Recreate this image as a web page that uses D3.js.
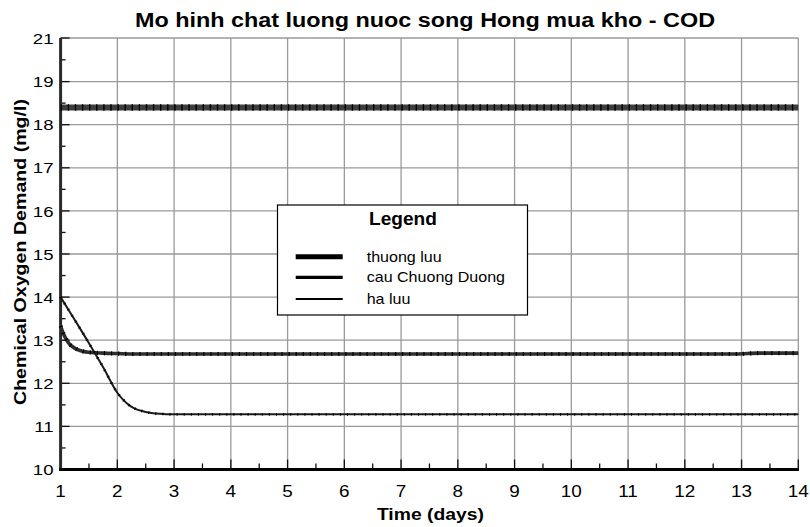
<!DOCTYPE html>
<html><head><meta charset="utf-8">
<script src="https://cdn.jsdelivr.net/npm/d3@7"></script>
<style>html,body{margin:0;padding:0;background:#fff;}svg{display:block;}</style>
</head><body>
<svg id="chart" width="810" height="527"></svg>
<script>
// ---------- data ----------
const seriesNames = ["thuong luu", "cau Chuong Duong", "ha luu"];
const thuongLuuDays = [1, 14];
const thuongLuuCOD  = [18.4, 18.4];
const cauDays = [1, 1.05, 1.1, 1.15, 1.2, 1.3, 1.4, 1.5, 1.75, 2.0, 2.3, 12.9, 13.3, 14];
const cauCOD  = [13.33, 13.15, 13.02, 12.92, 12.86, 12.78, 12.74, 12.72, 12.70, 12.69, 12.68, 12.68, 12.70, 12.70];
const haLuuDays = [1, 1.25, 1.5, 1.75, 2.0, 2.1, 2.2, 2.3, 2.45, 2.6, 2.8, 3.0, 14];
const haLuuCOD  = [14.0, 13.47, 12.93, 12.37, 11.78, 11.62, 11.5, 11.42, 11.35, 11.31, 11.29, 11.28, 11.28];
const xTicks = [1,2,3,4,5,6,7,8,9,10,11,12,13,14];
const xMinorTicks = [1.5,2.5,3.5,4.5,5.5,6.5,7.5,8.5,9.5,10.5,11.5,12.5,13.5];
const yTicks = [10,11,12,13,14,15,16,17,18,19,21];
const yMinorTicks = [10.5,11.5,12.5,13.5,14.5,15.5,16.5,17.5,18.5,20];
const titleText = "Mo hinh chat luong nuoc song Hong mua kho - COD";
const xTitle = "Time (days)";
const yTitle = "Chemical Oxygen Demand (mg/l)";
const legendTitle = "Legend";

// ---------- layout ----------
const svg = d3.select("#chart");
const FONT = "'Liberation Sans', Arial, Helvetica, sans-serif";
const L = 60.6, R = 798.3, T = 38, B = 469.5;
const x = d3.scaleLinear().domain([1, 14]).range([L, R]);
const y = d3.scaleLinear().domain([10, 19, 21]).range([B, 81.6, T]);

function txt(g, px, py, s, o) {
  const t = g.append("text").attr("x", px).attr("y", py).text(s)
    .attr("font-family", FONT).attr("font-size", o.size)
    .attr("font-weight", o.weight || "normal")
    .attr("text-anchor", o.anchor || "middle").attr("fill", "#000");
  if (o.len) t.attr("textLength", o.len).attr("lengthAdjust", "spacingAndGlyphs");
  else if (o.sx) {
    const n = t.node().getComputedTextLength();
    t.attr("textLength", n * o.sx).attr("lengthAdjust", "spacingAndGlyphs");
  }
  return t;
}

// grid
const grid = svg.append("g").attr("stroke", "#9a9a9a").attr("stroke-width", 1.3);
grid.selectAll("line.v").data(xTicks.filter(d => d > 1)).join("line")
  .attr("x1", d => x(d)).attr("x2", d => x(d)).attr("y1", T).attr("y2", B);
grid.selectAll("line.h").data(yTicks.filter(d => d > 10)).join("line")
  .attr("x1", L).attr("x2", R).attr("y1", d => y(d)).attr("y2", d => y(d));

// minor & major ticks (inward)
const tk = svg.append("g").attr("stroke", "#111").attr("stroke-width", 1.3);
tk.selectAll("line.xm").data(xMinorTicks).join("line")
  .attr("x1", d => x(d)).attr("x2", d => x(d)).attr("y1", B).attr("y2", B - 6);
tk.selectAll("line.xM").data(xTicks).join("line")
  .attr("x1", d => x(d)).attr("x2", d => x(d)).attr("y1", B).attr("y2", B - 10);
tk.selectAll("line.ym").data(yMinorTicks).join("line")
  .attr("x1", L).attr("x2", L + 5).attr("y1", d => y(d)).attr("y2", d => y(d));
tk.selectAll("line.yM").data(yTicks).join("line")
  .attr("x1", L).attr("x2", L + 9).attr("y1", d => y(d)).attr("y2", d => y(d));

// axes
svg.append("line").attr("x1", L).attr("x2", L).attr("y1", T).attr("y2", B + 1.3)
  .attr("stroke", "#2a2a2a").attr("stroke-width", 3);
svg.append("line").attr("x1", L - 1.5).attr("x2", R + 0.7).attr("y1", B).attr("y2", B)
  .attr("stroke", "#000").attr("stroke-width", 2.8);

// tick labels
const lab = svg.append("g");
xTicks.forEach(d => txt(lab, x(d), 497, String(d), {size: 16, sx: 1.18}));
yTicks.forEach(d => txt(lab, 53.5, y(d) + 5.6, String(d), {size: 15.5, sx: 1.2, anchor: "end"}));

// series
const series = [
  {days: thuongLuuDays, cod: thuongLuuCOD, w: 6, base: "#3d3d3d", dash: "1.4 5.7", tw: 6.4},
  {days: cauDays, cod: cauCOD, w: 3.6, base: "#2e2e2e", dash: "1.2 5.9", tw: 4.2},
  {days: haLuuDays, cod: haLuuCOD, w: 2, base: "#1c1c1c", dash: "1 6.1", tw: 2.8}
];
const line = d3.line().x(d => x(d[0])).y(d => y(d[1])).curve(d3.curveMonotoneX);
const lines = svg.append("g").attr("fill", "none");
series.forEach(s => {
  const pts = s.days.map((d, i) => [d, s.cod[i]]);
  lines.append("path").attr("d", line(pts)).attr("stroke", s.base).attr("stroke-width", s.w);
  lines.append("path").attr("d", line(pts)).attr("stroke", "#000").attr("stroke-width", s.tw)
    .attr("stroke-dasharray", s.dash);
});

// legend
const lg = svg.append("g");
lg.append("rect").attr("x", 277.5).attr("y", 205).attr("width", 250).attr("height", 110)
  .attr("fill", "#fff").attr("stroke", "#000").attr("stroke-width", 1.2);
txt(lg, 403, 225, legendTitle, {size: 18, weight: "bold", sx: 1.06});
const legY = [256.7, 277.3, 299];
const legW = [5, 3.2, 2.2];
seriesNames.forEach((n, i) => {
  lg.append("line").attr("x1", 295.7).attr("x2", 342.7).attr("y1", legY[i]).attr("y2", legY[i])
    .attr("stroke", "#000").attr("stroke-width", legW[i]);
  txt(lg, 366.7, legY[i] + 5, n, {size: 15, sx: 1.07, anchor: "start"});
});

// titles
txt(svg, 425, 26.7, titleText, {size: 20, weight: "bold", len: 580});
txt(svg, 430.4, 520, xTitle, {size: 17, weight: "bold", len: 107});
const yt = svg.append("g").attr("transform", "translate(25.5,252) rotate(-90)");
txt(yt, 0, 0, yTitle, {size: 17, weight: "bold", len: 306});
</script>
</body></html>
